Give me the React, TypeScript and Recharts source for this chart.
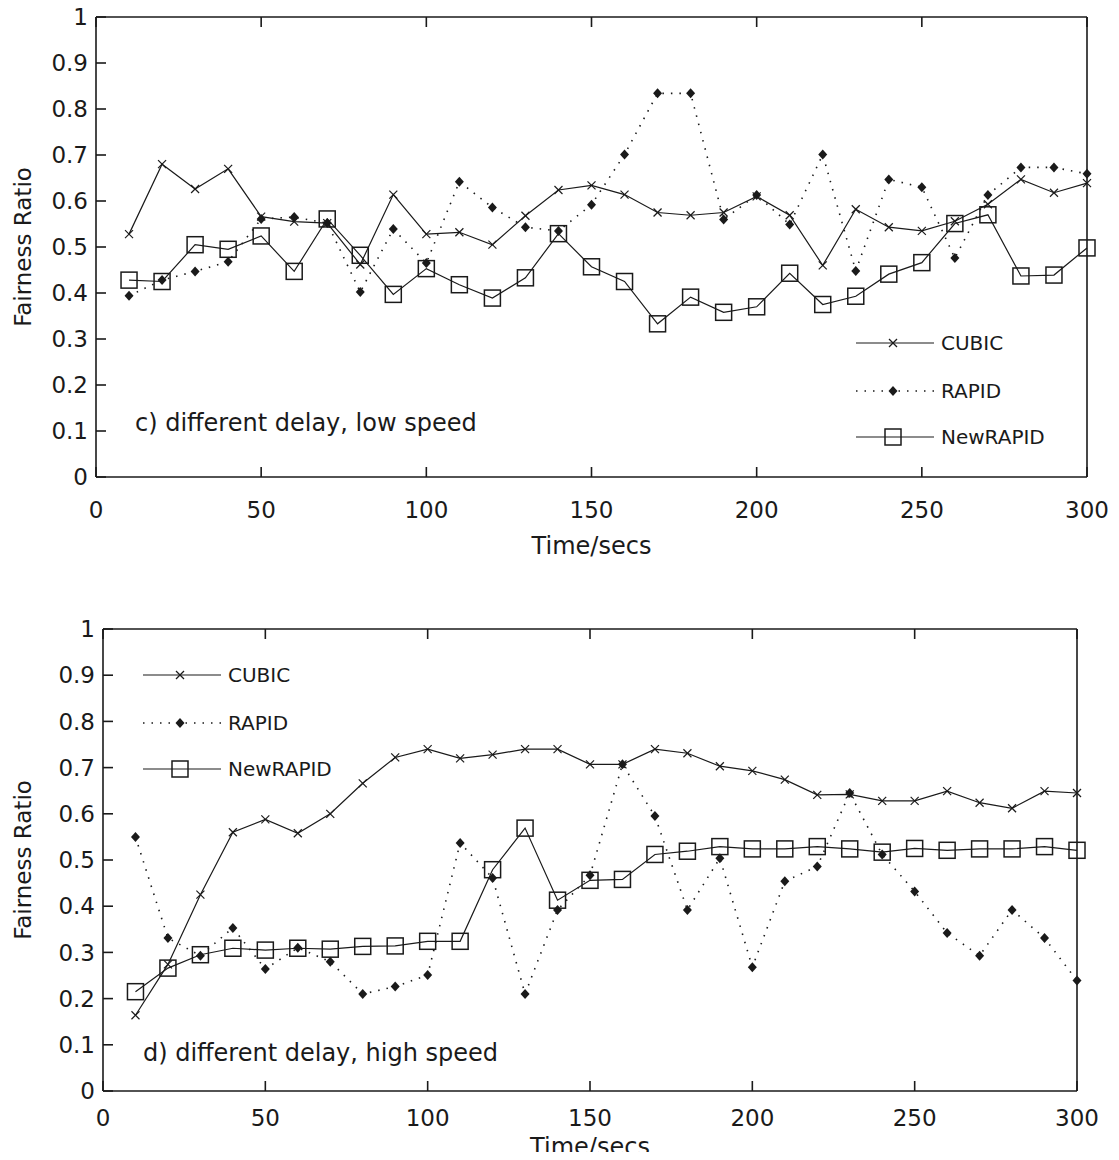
import React from 'react';
import { LineChart, Line, XAxis, YAxis, Legend, ReferenceDot } from 'recharts';

const times = [10, 20, 30, 40, 50, 60, 70, 80, 90, 100, 110, 120, 130, 140, 150, 160, 170, 180, 190, 200, 210, 220, 230, 240, 250, 260, 270, 280, 290, 300];

// c) different delay, low speed
const cubicLow = [0.528, 0.680, 0.626, 0.670, 0.566, 0.555, 0.552, 0.462, 0.614, 0.528, 0.532, 0.505, 0.568, 0.624, 0.634, 0.614, 0.575, 0.569, 0.575, 0.610, 0.569, 0.460, 0.582, 0.543, 0.535, 0.556, 0.593, 0.647, 0.618, 0.639];
const rapidLow = [0.394, 0.428, 0.447, 0.468, 0.561, 0.565, 0.552, 0.402, 0.539, 0.465, 0.642, 0.586, 0.543, 0.535, 0.592, 0.701, 0.834, 0.834, 0.560, 0.613, 0.549, 0.701, 0.448, 0.647, 0.630, 0.476, 0.613, 0.673, 0.673, 0.659];
const newRapidLow = [0.428, 0.425, 0.505, 0.495, 0.524, 0.447, 0.561, 0.482, 0.397, 0.453, 0.418, 0.389, 0.433, 0.529, 0.457, 0.425, 0.333, 0.391, 0.358, 0.370, 0.443, 0.375, 0.393, 0.441, 0.466, 0.551, 0.570, 0.437, 0.439, 0.498];

// d) different delay, high speed
const cubicHigh = [0.164, 0.274, 0.425, 0.560, 0.588, 0.558, 0.600, 0.666, 0.722, 0.740, 0.720, 0.728, 0.740, 0.740, 0.707, 0.707, 0.740, 0.731, 0.703, 0.693, 0.674, 0.641, 0.642, 0.628, 0.628, 0.649, 0.624, 0.612, 0.649, 0.645];
const rapidHigh = [0.550, 0.331, 0.293, 0.353, 0.264, 0.310, 0.280, 0.210, 0.226, 0.251, 0.537, 0.461, 0.210, 0.392, 0.467, 0.707, 0.595, 0.392, 0.504, 0.268, 0.454, 0.486, 0.645, 0.512, 0.432, 0.342, 0.293, 0.392, 0.331, 0.239];
const newRapidHigh = [0.215, 0.266, 0.295, 0.309, 0.305, 0.309, 0.307, 0.313, 0.314, 0.324, 0.324, 0.479, 0.569, 0.413, 0.456, 0.458, 0.512, 0.519, 0.529, 0.524, 0.524, 0.529, 0.524, 0.517, 0.525, 0.521, 0.524, 0.524, 0.529, 0.521];

const xTicks = [0, 50, 100, 150, 200, 250, 300];
const yTicks = [0, 0.1, 0.2, 0.3, 0.4, 0.5, 0.6, 0.7, 0.8, 0.9, 1];

const FONT = '"DejaVu Sans", sans-serif';
const INK = '#1a1a1a';

const buildRows = (cubic: number[], rapid: number[], newRapid: number[]) =>
  times.map((t, i) => ({ t, CUBIC: cubic[i], RAPID: rapid[i], NewRAPID: newRapid[i] }));

const CrossDot = (props: any) => {
  const { cx, cy, index } = props;
  if (cx == null || cy == null) return <g key={index} />;
  return (
    <g key={index} stroke={INK} strokeWidth={1.2}>
      <line x1={cx - 4} y1={cy - 4} x2={cx + 4} y2={cy + 4} />
      <line x1={cx - 4} y1={cy + 4} x2={cx + 4} y2={cy - 4} />
    </g>
  );
};

const DiamondDot = (props: any) => {
  const { cx, cy, index } = props;
  if (cx == null || cy == null) return <g key={index} />;
  return <path key={index} d={`M${cx},${cy - 5}L${cx + 4.5},${cy}L${cx},${cy + 5}L${cx - 4.5},${cy}Z`} fill={INK} />;
};

const SquareDot = (props: any) => {
  const { cx, cy, index } = props;
  if (cx == null || cy == null) return <g key={index} />;
  return <rect key={index} x={cx - 8} y={cy - 8} width={16} height={16} fill="none" stroke={INK} strokeWidth={1.5} />;
};

// mirrored axes keep their tick marks but show no labels
const NoLabel = () => <g />;

const LegendBox = () => {
  const rows = [
    { name: 'CUBIC', dash: undefined, y: 23, marker: <CrossDot cx={43} cy={23} index="c" /> },
    { name: 'RAPID', dash: '1.5 7', y: 71, marker: <DiamondDot cx={43} cy={71} index="r" /> },
    { name: 'NewRAPID', dash: undefined, y: 117, marker: <SquareDot cx={43} cy={117} index="n" /> },
  ];
  return (
    <svg width={240} height={135} style={{ display: 'block' }}>
      {rows.map((r) => (
        <g key={r.name}>
          <line x1={6} x2={84} y1={r.y} y2={r.y} stroke={INK} strokeWidth={r.dash ? 1.6 : 1.2} strokeDasharray={r.dash} />
          {r.marker}
          <text x={91} y={r.y} dy="0.36em" fontFamily={FONT} fontSize={20} fill={INK}>{r.name}</text>
        </g>
      ))}
    </svg>
  );
};

const YTitle = (props: any) => {
  const { viewBox } = props;
  const cx = viewBox.x + 23;
  const cy = viewBox.y + viewBox.height / 2;
  return (
    <text x={cx} y={cy} transform={`rotate(-90 ${cx} ${cy})`} textAnchor="middle" dy="0.36em" fontFamily={FONT} fontSize={23} fill={INK}>
      Fairness Ratio
    </text>
  );
};

const makeXTitle = (gap: number) => (props: any) => {
  const { viewBox } = props;
  return (
    <text x={viewBox.x + viewBox.width / 2} y={viewBox.y + viewBox.height - gap} textAnchor="middle" fontFamily={FONT} fontSize={24} fill={INK}>
      Time/secs
    </text>
  );
};

interface PanelProps {
  rows: any[];
  height: number;
  margin: { top: number; right: number; left: number; bottom: number };
  yAxisWidth: number;
  xAxisHeight: number;
  xTickMargin: number;
  xTitleGap: number;
  note: string;
  noteAt: [number, number];
  legendAt: { left: number; top: number };
}

function Panel({ rows, height, margin, yAxisWidth, xAxisHeight, xTickMargin, xTitleGap, note, noteAt, legendAt }: PanelProps) {
  const tickStyle = { fontFamily: FONT, fontSize: 23, fill: INK };
  const axisLine = { stroke: INK, strokeWidth: 1.6 };
  return (
    <LineChart width={1119} height={height} data={rows} margin={margin}>
      <XAxis
        dataKey="t"
        type="number"
        domain={[0, 300]}
        ticks={xTicks}
        height={xAxisHeight}
        tickSize={-10}
        tickMargin={xTickMargin}
        tick={tickStyle}
        axisLine={axisLine}
        tickLine={axisLine}
        label={{ content: makeXTitle(xTitleGap) }}
      />
      <XAxis xAxisId="top" orientation="top" dataKey="t" type="number" domain={[0, 300]} ticks={xTicks} height={1} tickSize={-10} tick={NoLabel} axisLine={axisLine} tickLine={axisLine} />
      <YAxis
        type="number"
        domain={[0, 1]}
        ticks={yTicks}
        width={yAxisWidth}
        tickSize={-10}
        tickMargin={18}
        tick={tickStyle}
        tickFormatter={(v: number) => String(v)}
        axisLine={axisLine}
        tickLine={axisLine}
        label={{ content: YTitle }}
      />
      <YAxis yAxisId="right" orientation="right" type="number" domain={[0, 1]} ticks={yTicks} width={1} tickSize={-10} tick={NoLabel} axisLine={axisLine} tickLine={axisLine} />
      <Legend
        layout="vertical"
        align="center"
        verticalAlign="middle"
        content={() => <LegendBox />}
        wrapperStyle={{ left: legendAt.left, top: legendAt.top, width: 240, height: 135 }}
      />
      <ReferenceDot
        x={noteAt[0]}
        y={noteAt[1]}
        r={0}
        fill="none"
        stroke="none"
        label={{ value: note, position: 'right', offset: 0, fontFamily: FONT, fontSize: 24, fill: INK }}
      />
      <Line dataKey="RAPID" stroke={INK} strokeWidth={1.6} strokeDasharray="1.5 7" dot={DiamondDot} isAnimationActive={false} />
      <Line dataKey="CUBIC" stroke={INK} strokeWidth={1.2} dot={CrossDot} isAnimationActive={false} />
      <Line dataKey="NewRAPID" stroke={INK} strokeWidth={1.2} dot={SquareDot} isAnimationActive={false} />
    </LineChart>
  );
}

export default function App() {
  return (
    <div style={{ position: 'relative', width: 1119, height: 1160, margin: -8, background: '#fff', overflow: 'hidden' }}>
      <div style={{ position: 'absolute', left: 0, top: 0 }}>
        <Panel
          rows={buildRows(cubicLow, rapidLow, newRapidLow)}
          height={580}
          margin={{ top: 16, right: 31, left: 0, bottom: 20 }}
          yAxisWidth={96}
          xAxisHeight={83}
          xTickMargin={35}
          xTitleGap={6}
          note="c) different delay, low speed"
          noteAt={[11.8, 0.119]}
          legendAt={{ left: 850, top: 320 }}
        />
      </div>
      <div style={{ position: 'absolute', left: 0, top: 600 }}>
        <Panel
          rows={buildRows(cubicHigh, rapidHigh, newRapidHigh)}
          height={560}
          margin={{ top: 28, right: 41, left: 0, bottom: 0 }}
          yAxisWidth={103}
          xAxisHeight={69}
          xTickMargin={29}
          xTitleGap={5}
          note="d) different delay, high speed"
          noteAt={[12.3, 0.084]}
          legendAt={{ left: 137, top: 52 }}
        />
      </div>
    </div>
  );
}
